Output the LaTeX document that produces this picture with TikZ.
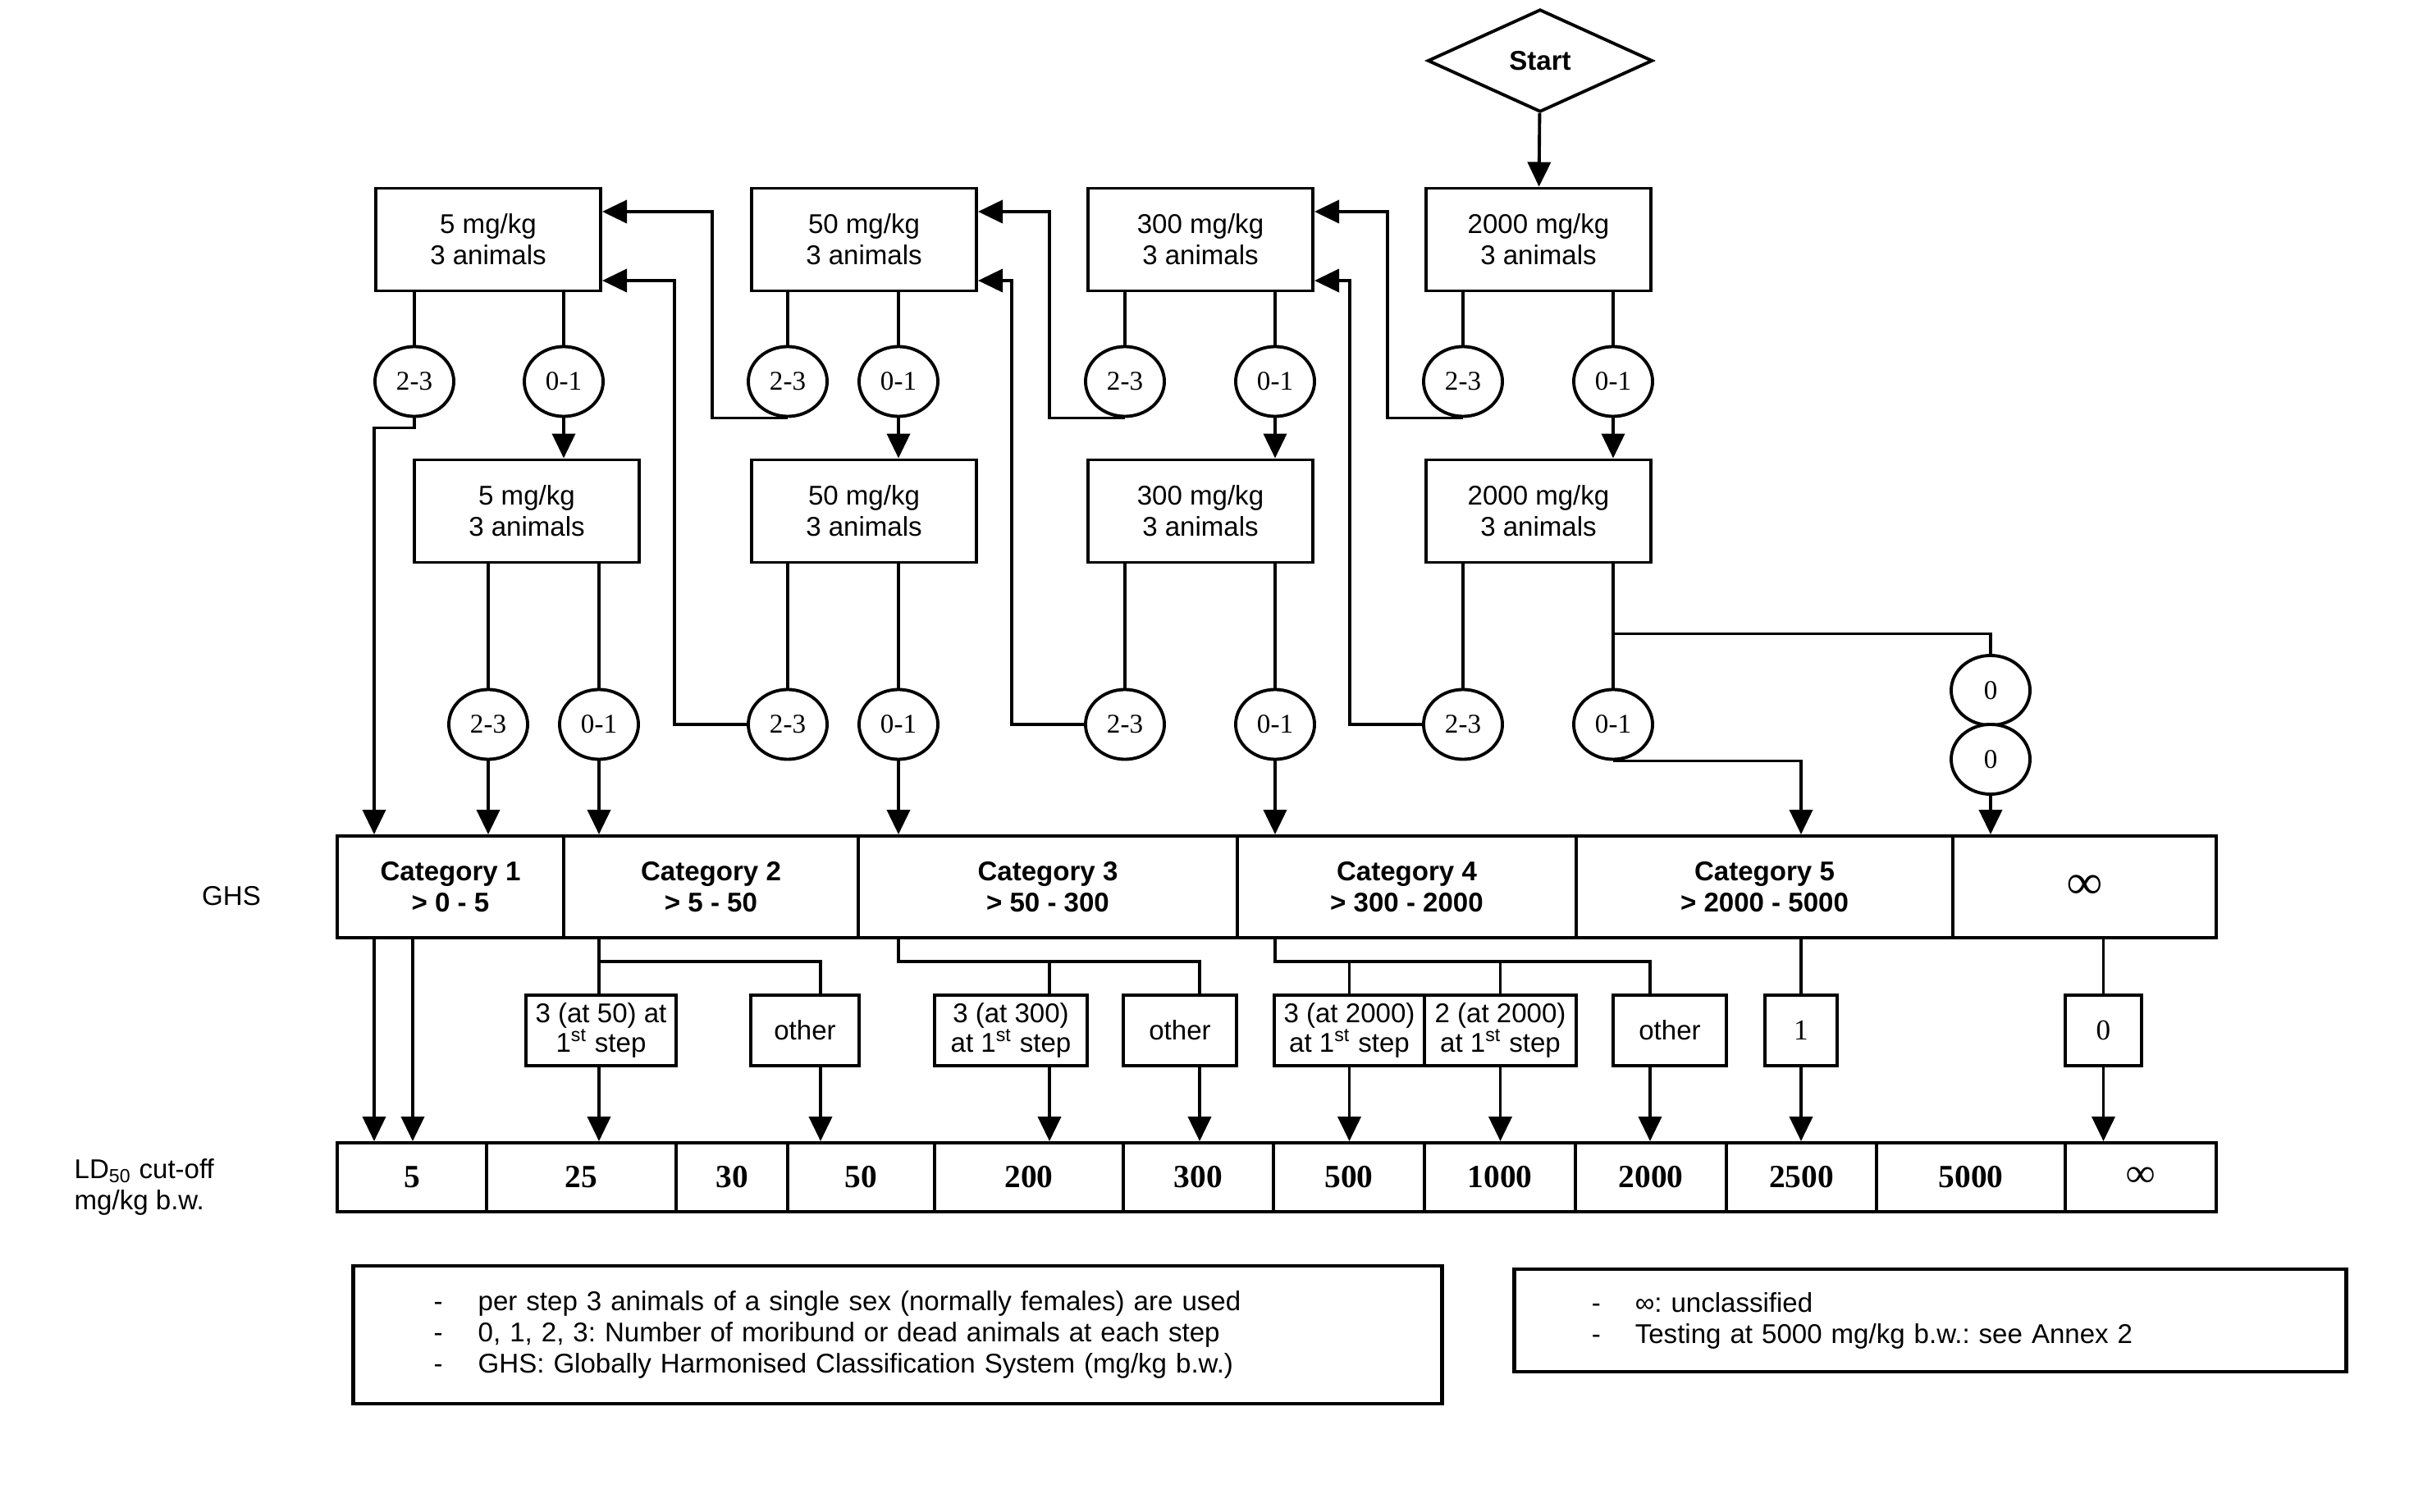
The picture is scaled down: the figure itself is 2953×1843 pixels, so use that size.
\documentclass[tikz,border=0pt]{standalone}
\usepackage{fontspec}
\setmainfont{Liberation Sans}
\newfontfamily\numfont{Liberation Serif}
\usetikzlibrary{shapes.geometric,arrows.meta}
\tikzset{
  txt/.style={font=\fontsize{9.4}{10.8}\selectfont},
  startd/.style={diamond, draw, line width=1.1pt, minimum width=2.74cm, minimum height=1.25cm,
    inner sep=0pt, font=\bfseries\fontsize{9.4}{10.8}\selectfont},
  dose/.style={rectangle, draw, line width=1.1pt, minimum width=2.74cm, minimum height=1.25cm,
    align=center, inner sep=0pt, txt},
  cnt/.style={ellipse, draw, line width=1.1pt, minimum width=0.96cm, minimum height=0.85cm,
    inner sep=0pt, fill=white, font=\numfont\fontsize{9.4}{10}\selectfont},
  cat/.style={rectangle, draw, line width=1.1pt, minimum height=1.24cm, align=center,
    inner sep=0pt, font=\bfseries\fontsize{9.4}{10.8}\selectfont},
  res/.style={rectangle, draw, line width=1.1pt, minimum height=0.86cm, align=center,
    inner sep=0pt, font=\fontsize{9.4}{10.2}\selectfont},
  ldc/.style={rectangle, draw, line width=1.1pt, minimum height=0.84cm, inner sep=0pt,
    font=\numfont\bfseries\fontsize{11.2}{12}\selectfont},
  legbox/.style={rectangle, draw, line width=1.3pt, align=left, inner ysep=0pt, txt},
  arr/.style={-{Triangle[length=3mm,width=2.8mm]}, line width=1.1pt},
  ln/.style={line width=1.1pt},
}
\newcommand{\legitem}[2][5.4mm]{\makebox[#1][l]{-}#2}
\frenchspacing

\begin{document}
\begin{tikzpicture}[x=0.01cm,y=-0.01cm]
    \useasboundingbox (0,0) rectangle (2953,1843);
    % dosing steps
    \node[startd](start) at (1877,74) {Start};
    \node[dose](d5a) at (595,292) {5 mg/kg\\3 animals};
    \node[dose](d50a) at (1053,292) {50 mg/kg\\3 animals};
    \node[dose](d300a) at (1463,292) {300 mg/kg\\3 animals};
    \node[dose](d2000a) at (1875,292) {2000 mg/kg\\3 animals};
    \node[dose](d5b) at (642,623) {5 mg/kg\\3 animals};
    \node[dose](d50b) at (1053,623) {50 mg/kg\\3 animals};
    \node[dose](d300b) at (1463,623) {300 mg/kg\\3 animals};
    \node[dose](d2000b) at (1875,623) {2000 mg/kg\\3 animals};
    % outcomes (2-3 = hi, 0-1 = lo)
    \node[cnt](hi5a) at (505,465) {2-3};
    \node[cnt](lo5a) at (687,465) {0-1};
    \node[cnt](hi50a) at (960,465) {2-3};
    \node[cnt](lo50a) at (1095,465) {0-1};
    \node[cnt](hi300a) at (1371,465) {2-3};
    \node[cnt](lo300a) at (1554,465) {0-1};
    \node[cnt](hi2000a) at (1783,465) {2-3};
    \node[cnt](lo2000a) at (1966,465) {0-1};
    \node[cnt](hi5b) at (595,883) {2-3};
    \node[cnt](lo5b) at (730,883) {0-1};
    \node[cnt](hi50b) at (960,883) {2-3};
    \node[cnt](lo50b) at (1095,883) {0-1};
    \node[cnt](hi300b) at (1371,883) {2-3};
    \node[cnt](lo300b) at (1554,883) {0-1};
    \node[cnt](hi2000b) at (1783,883) {2-3};
    \node[cnt](lo2000b) at (1966,883) {0-1};
    \node[cnt](z1) at (2426,841.5) {0};
    \node[cnt](z2) at (2426,925.5) {0};
    % GHS categories
    \node[txt](ghs) at (282,1092) {GHS};
    \foreach \l/\r/\t/\n in {411/687/{Category 1\\> 0 - 5}/cat1, 687/1046/{Category 2\\> 5 - 50}/cat2,
        1046/1508/{Category 3\\> 50 - 300}/cat3, 1508/1921/{Category 4\\> 300 - 2000}/cat4,
        1921/2380/{Category 5\\> 2000 - 5000}/cat5, 2380/2701/{{\numfont\fontsize{17}{17}\selectfont ∞}}/catinf}{
      \pgfmathsetmacro\w{(\r-\l)*0.01}
      \node[cat, minimum width=\w cm](\n) at ({(\l+\r)/2},1081) {\t};
    }
    % result boxes
    \node[res, minimum width=1.83cm](r50) at (732.5,1256) {3 (at 50) at\\1\textsuperscript{st} step};
    \node[res, minimum width=1.32cm](o2) at (981,1256) {other};
    \node[res, minimum width=1.86cm](r300) at (1232,1256) {3 (at 300)\\at 1\textsuperscript{st} step};
    \node[res, minimum width=1.38cm](o3) at (1438,1256) {other};
    \node[res, minimum width=1.83cm](r2000a) at (1644.5,1256) {3 (at 2000)\\at 1\textsuperscript{st} step};
    \node[res, minimum width=1.85cm](r2000b) at (1828.5,1256) {2 (at 2000)\\at 1\textsuperscript{st} step};
    \node[res, minimum width=1.38cm](o4) at (2035,1256) {other};
    \node[res, minimum width=0.88cm, font=\numfont\fontsize{10}{11}\selectfont](r1) at (2195,1256) {1};
    \node[res, minimum width=0.93cm, font=\numfont\fontsize{10}{11}\selectfont](r0) at (2563.5,1256) {0};
    \coordinate (o2x) at ([xshift=1.9mm]o2.center);
    \coordinate (r300x) at ([xshift=4.7mm]r300.center);
    \coordinate (o3x) at ([xshift=2.4mm]o3.center);
    \coordinate (o4x) at ([xshift=-2.4mm]o4.center);
    \coordinate (bus) at (0,1172);
    % LD50 cut-off values
    \node[txt, align=left, anchor=west, inner sep=0pt](ldl) at (90,1447) {LD\textsubscript{50} cut-off\\mg/kg b.w.};
    \foreach \l/\r/\t/\n in {411/593/5/ld5, 593/824/25/ld25, 824/960/30/ld30, 960/1139/50/ld50,
        1139/1369/200/ld200, 1369/1552/300/ld300, 1552/1736/500/ld500, 1736/1920/1000/ld1000,
        1920/2104/2000/ld2000, 2104/2287/2500/ld2500, 2287/2517/5000/ld5000, 2517/2701/{{\fontsize{14}{14}\selectfont ∞}}/ldinf}{
      \pgfmathsetmacro\w{(\r-\l)*0.01}
      \node[ldc, minimum width=\w cm](\n) at ({(\l+\r)/2},1435) {\t};
    }
    % notes
    \node[legbox, minimum width=13.26cm, minimum height=1.68cm, text width=11.3cm, inner xsep=0.98cm](legA) at (1094,1627)
      {\legitem{per step 3 animals of a single sex (normally females) are used}\\
       \legitem{0, 1, 2, 3: Number of moribund or dead animals at each step}\\
       \legitem{GHS: Globally Harmonised Classification System (mg/kg b.w.)}};
    \node[legbox, minimum width=10.13cm, minimum height=1.25cm, text width=8.25cm, inner xsep=0.94cm](legB) at (2352.5,1609.5)
      {\legitem[5.3mm]{∞: unclassified}\\
       \legitem[5.3mm]{Testing at 5000 mg/kg b.w.: see Annex 2}};
    % connectors
    \draw[arr](start)--(d2000a);
    \foreach \s in {5a,50a,300a,2000a,5b,50b,300b,2000b}{
      \draw[ln](hi\s |- d\s.south)--(hi\s);
      \draw[ln](lo\s |- d\s.south)--(lo\s);
    }
    \draw[arr](lo5a)--(lo5a |- d5b.north);
    \draw[arr](lo50a)--(lo50a |- d50b.north);
    \draw[arr](lo300a)--(lo300a |- d300b.north);
    \draw[arr](lo2000a)--(lo2000a |- d2000b.north);
    \draw[arr](hi50a.south)--++(-92,0)|-([yshift=3.4mm]d5a.east);
    \draw[arr](hi300a.south)--++(-92,0)|-([yshift=3.4mm]d50a.east);
    \draw[arr](hi2000a.south)--++(-92,0)|-([yshift=3.4mm]d300a.east);
    \draw[arr](hi50b.west)--++(-88,0)|-([yshift=-5mm]d5a.east);
    \draw[arr](hi300b.west)--++(-88,0)|-([yshift=-5mm]d50a.east);
    \draw[arr](hi2000b.west)--++(-88,0)|-([yshift=-5mm]d300a.east);
    \draw[arr](hi5a.south)--++(0,12)-|(d5a.west |- cat1.north);
    \draw[arr](hi5b)--(hi5b |- cat1.north);
    \draw[arr](lo5b)--(lo5b |- cat2.north);
    \draw[arr](lo50b)--(lo50b |- cat3.north);
    \draw[arr](lo300b)--(lo300b |- cat4.north);
    \draw[arr](lo2000b.south)-|(r1 |- cat5.north);
    \draw[ln](lo2000b |- d2000b.south)++(0,85)-|(z1);
    \draw[arr](z2)--(z2 |- catinf.north);
    \draw[arr](d5a.west |- cat1.south)--(d5a.west |- ld5.north);
    \draw[arr](d5b.west |- cat1.south)--(d5b.west |- ld5.north);
    \draw[ln](lo5b |- cat2.south)--(lo5b |- r50.north);
    \draw[ln](lo5b |- bus)-|(o2x |- o2.north);
    \draw[arr](lo5b |- r50.south)--(lo5b |- ld25.north);
    \draw[arr](o2x |- o2.south)--(o2x |- ld50.north);
    \draw[ln](lo50b |- cat3.south)|-(o3x |- bus)--(o3x |- o3.north);
    \draw[ln](r300x |- bus)--(r300x |- r300.north);
    \draw[arr](r300x |- r300.south)--(r300x |- ld200.north);
    \draw[arr](o3x |- o3.south)--(o3x |- ld300.north);
    \draw[ln](lo300b |- cat4.south)|-(o4x |- bus)--(o4x |- o4.north);
    \draw[ln](r2000a |- bus)--(r2000a.north);
    \draw[ln](r2000b |- bus)--(r2000b.north);
    \draw[arr](r2000a.south)--(r2000a |- ld500.north);
    \draw[arr](r2000b.south)--(r2000b |- ld1000.north);
    \draw[arr](o4x |- o4.south)--(o4x |- ld2000.north);
    \draw[ln](r1 |- cat5.south)--(r1.north);
    \draw[arr](r1.south)--(r1 |- ld2500.north);
    \draw[ln](r0 |- catinf.south)--(r0.north);
    \draw[arr](r0.south)--(r0 |- ldinf.north);
\end{tikzpicture}
\end{document}
